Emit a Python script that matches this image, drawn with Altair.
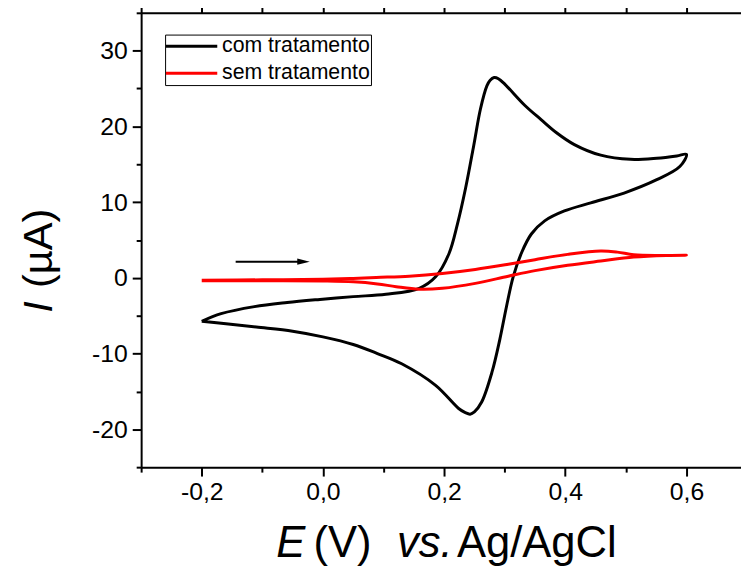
import altair as alt
import pandas as pd

# ---- data ----
series_names = ["com tratamento", "sem tratamento"]
series_colors = ["#000000", "#ff0000"]

# black voltammogram: forward scan (-0.2 -> 0.6 V) then reverse scan
com_E = [-0.200, -0.168, -0.113, -0.059, -0.005, 0.050, 0.104, 0.159, 0.186,
         0.208, 0.222, 0.2355, 0.249, 0.260, 0.2706, 0.276, 0.2825, 0.2896, 0.3005,
         0.333, 0.360, 0.385, 0.415, 0.4585, 0.5075, 0.551, 0.584, 0.600,
         0.589, 0.551, 0.497, 0.442, 0.3985, 0.366, 0.344, 0.328, 0.314, 0.303,
         0.292, 0.279, 0.262, 0.250, 0.243, 0.235, 0.224, 0.186, 0.130, 0.090,
         0.050, 0.000, -0.050, -0.110, -0.160, -0.200]
com_I = [-5.74, -4.73, -3.80, -3.26, -2.85, -2.48, -2.17, -1.38, 0.13,
         3.18, 7.09, 11.86, 17.52, 22.3, 25.35, 26.1, 26.45, 26.3, 25.55,
         22.8, 20.9, 19.2, 17.6, 16.2, 15.65, 15.8, 16.1, 16.3,
         14.7, 12.96, 11.2, 9.9, 8.83, 7.52, 5.79, 3.35, 0.13, -3.78,
         -8.12, -12.46, -16.4, -17.7, -18.0, -17.8, -17.25, -14.2, -11.35, -10.0,
         -8.8, -7.8, -7.05, -6.5, -6.05, -5.74]

# red voltammogram: forward scan then reverse scan
sem_E = [-0.200, -0.100, 0.000, 0.050, 0.088, 0.1425, 0.197, 0.2515, 0.306, 0.350,
         0.404, 0.4585, 0.486, 0.513, 0.5565, 0.600,
         0.567, 0.513, 0.4585, 0.404, 0.350, 0.306, 0.2515, 0.197, 0.159, 0.121,
         0.090, 0.050, 0.000, -0.100, -0.200]
sem_I = [-0.30, -0.26, -0.18, -0.08, 0.05, 0.22, 0.57, 1.10, 1.79, 2.40,
         3.10, 3.55, 3.40, 3.05, 2.96, 3.00,
         2.96, 2.74, 2.22, 1.66, 0.95, 0.22, -0.73, -1.38, -1.50, -1.17,
         -0.80, -0.52, -0.42, -0.40, -0.40]

# scan-direction arrow
arrow_E = [-0.144, -0.039]
arrow_I = [2.14, 2.14]
arrow_head_E = [-0.032]
arrow_head_I = [2.14]

x_major = [-0.2, 0.0, 0.2, 0.4, 0.6]
x_minor = [-0.3, -0.1, 0.1, 0.3, 0.5]
x_all = [-0.3, -0.2, -0.1, 0.0, 0.1, 0.2, 0.3, 0.4, 0.5, 0.6]
y_major = [-20, -10, 0, 10, 20, 30]
y_minor = [-25, -15, -5, 5, 15, 25, 35]

FONT = "Liberation Sans"

# ---- tables ----
rows = []
for name, es, is_ in [(series_names[0], com_E, com_I), (series_names[1], sem_E, sem_I)]:
    for k, (e, i) in enumerate(zip(es, is_)):
        rows.append({"serie": name, "E": e, "I": i, "idx": k})
df = pd.DataFrame(rows)
arrow_df = pd.DataFrame({"E0": [arrow_E[0]], "E1": [arrow_E[1]], "I0": [arrow_I[0]]})
head_df = pd.DataFrame({"E": arrow_head_E, "I": arrow_head_I})

xscale = alt.Scale(domain=[-0.3, 0.69], nice=False, zero=False)
yscale = alt.Scale(domain=[-25, 35], nice=False, zero=False)

common = dict(title=None, grid=False, tickColor="black", tickWidth=2,
              domainColor="black", domainWidth=2, labelFlush=False,
              labelOverlap=False, labelBound=False)

x_bottom_major = alt.Axis(orient="bottom", values=x_major, tickSize=9,
                          labelFont=FONT, labelFontSize=25, labelColor="black",
                          labelPadding=4,
                          labelExpr="(datum.value < 0 ? '-' : '') + replace(format(abs(datum.value), '.1f'), '.', ',')",
                          **common)
x_bottom_minor = alt.Axis(orient="bottom", values=x_minor, tickSize=5,
                          labels=False, domain=False, **common)
x_top = alt.Axis(orient="top", values=x_all, tickSize=9, labels=False, **common)
y_left_major = alt.Axis(orient="left", values=y_major, tickSize=9,
                        labelFont=FONT, labelFontSize=25, labelColor="black",
                        labelPadding=5,
                        labelExpr="(datum.value < 0 ? '-' : '') + format(abs(datum.value), 'd')",
                        **common)
y_left_minor = alt.Axis(orient="left", values=y_minor, tickSize=5,
                        labels=False, domain=False, **common)

legend = alt.Legend(title=None, orient="none", legendX=24.2, legendY=22.0,
                    direction="vertical", strokeColor="black",
                    fillColor="white", padding=1, labelFont=FONT,
                    labelFontSize=21.5, labelColor="black", labelOffset=35,
                    symbolType="M-1.21,0H4.55", symbolSize=324,
                    symbolStrokeWidth=3, rowPadding=4.3, labelLimit=0)

lines = alt.Chart(df).mark_line(strokeWidth=3, interpolate="catmull-rom").encode(
    x=alt.X("E:Q", scale=xscale, axis=x_bottom_major),
    y=alt.Y("I:Q", scale=yscale, axis=y_left_major),
    color=alt.Color("serie:N", scale=alt.Scale(domain=series_names, range=series_colors),
                    legend=legend),
    order=alt.Order("idx:Q"),
)

arrow = alt.Chart(arrow_df).mark_rule(strokeWidth=2, color="black").encode(
    x=alt.X("E0:Q", axis=x_bottom_minor),
    x2="E1:Q",
    y=alt.Y("I0:Q", axis=y_left_minor),
)

head = alt.Chart(head_df).mark_point(shape="M-1,-0.5L1,0L-1,0.5Z", size=161,
                                     filled=True, color="black", opacity=1,
                                     strokeWidth=0).encode(
    x=alt.X("E:Q", axis=x_top),
    y=alt.Y("I:Q", axis=None),
)


def txt(s, x, y, size, italic=False, angle=0):
    return alt.Chart(pd.DataFrame({"t": [s]})).mark_text(
        text=s, font=FONT, fontSize=size, fontStyle="italic" if italic else "normal",
        align="left", baseline="alphabetic", angle=angle, color="black"
    ).encode(x=alt.value(x), y=alt.value(y))


titles = [
    txt("E", 136.5, 549.5, 44, italic=True),
    txt("(V)", 174, 549.5, 44),
    txt("vs.", 258.5, 549.5, 44, italic=True),
    txt("Ag/AgCl", 319, 549.5, 44),
    txt("I", -90.5, 303, 42, italic=True, angle=270),
    txt("(µA)", -90.5, 278, 42, angle=270),
]

chart = alt.layer(lines, arrow, head, *titles).resolve_axis(
    x="independent", y="independent"
).properties(
    width=606, height=459,
    autosize=alt.AutoSizeParams(type="none"),
    padding={"left": 134.5, "top": 2, "right": 0, "bottom": 98},
).configure_view(stroke=None).configure_legend(strokeWidth=1.2).configure(background="white")

chart.save("out.html", embed_options={"renderer": "svg", "actions": False})
